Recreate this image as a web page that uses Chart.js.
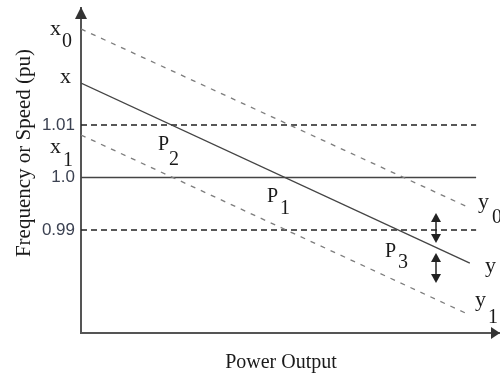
<!DOCTYPE html>
<html>
<head>
<meta charset="utf-8">
<script src="https://cdn.jsdelivr.net/npm/chart.js@4/dist/chart.umd.min.js"></script>
<style>
  html, body { margin: 0; padding: 0; background: #fff; }
  #wrap { width: 500px; height: 376px; position: relative; }
</style>
</head>
<body>
<div id="wrap"><canvas id="droop"></canvas></div>
<script>
// power output runs 0..100 (arbitrary), speed in pu
const droopX = [0, 92.8];          // start / end of the droop lines
const droopX0 = [1.0283, 0.9942];  // shifted up (x0 -> y0)
const droopMid = [1.0180, 0.9837]; // nominal (x -> y)
const droopX1 = [1.0081, 0.9738];  // shifted down (x1 -> y1)
const refX = [0, 94.3];            // horizontal reference lines
const refValues = [1.01, 1.0, 0.99];
const yTickLabels = ["1.01", "1.0", "0.99"];

function pts(xs, ys){ return xs.map((x, i) => ({x, y: ys[i]})); }

const serif = '"Liberation Serif", "Times New Roman", serif';

const extras = {
  id: 'extras',
  afterDraw(chart){
    const ctx = chart.ctx;
    const a = chart.chartArea;
    ctx.save();
    // axis arrow heads
    ctx.fillStyle = '#333';
    ctx.beginPath();
    ctx.moveTo(a.left, 7); ctx.lineTo(a.left - 6, 19); ctx.lineTo(a.left + 6, 19);
    ctx.closePath(); ctx.fill();
    ctx.beginPath();
    ctx.moveTo(500, a.bottom); ctx.lineTo(491, a.bottom - 6); ctx.lineTo(491, a.bottom + 6);
    ctx.closePath(); ctx.fill();

    // double headed arrows near P3
    ctx.strokeStyle = '#222'; ctx.fillStyle = '#222'; ctx.lineWidth = 1.5;
    function dbl(x, y1, y2){
      ctx.beginPath(); ctx.moveTo(x, y1 + 4); ctx.lineTo(x, y2 - 4); ctx.stroke();
      ctx.beginPath(); ctx.moveTo(x, y1); ctx.lineTo(x - 5, y1 + 9); ctx.lineTo(x + 5, y1 + 9); ctx.closePath(); ctx.fill();
      ctx.beginPath(); ctx.moveTo(x, y2); ctx.lineTo(x - 5, y2 - 9); ctx.lineTo(x + 5, y2 - 9); ctx.closePath(); ctx.fill();
    }
    dbl(436, 213, 243);
    dbl(436, 253, 283);

    // letter labels with subscripts
    ctx.fillStyle = '#1a1a1a';
    ctx.textAlign = 'left';
    ctx.textBaseline = 'alphabetic';
    function lab(t, x, y, sub, sx, sy, size){
      ctx.font = (size || 22) + 'px ' + serif;
      ctx.fillText(t, x, y);
      if (sub){ ctx.font = '20px ' + serif; ctx.fillText(sub, sx, sy); }
    }
    lab('x', 50, 35, '0', 62, 47);
    lab('x', 60, 83);
    lab('x', 50, 153, '1', 63, 166);
    lab('P', 158, 150, '2', 169, 165, 20);
    lab('P', 267, 202, '1', 280, 214, 20);
    lab('P', 385, 257, '3', 398, 268, 20);
    lab('y', 478, 208, '0', 492, 223);
    lab('y', 485, 272);
    lab('y', 475, 306, '1', 488, 323);

    // axis titles
    ctx.font = '20px ' + serif;
    ctx.textAlign = 'center';
    ctx.fillText('Power Output', 281, 368);
    ctx.font = '21px ' + serif;
    ctx.translate(30, 153);
    ctx.rotate(-Math.PI / 2);
    ctx.fillText('Frequency or Speed (pu)', 0, 0);
    ctx.restore();
  }
};

const ctx = document.getElementById('droop').getContext('2d');
new Chart(ctx, {
  type: 'scatter',
  data: {
    datasets: [
      { data: pts(droopX, droopX0), showLine: true, borderColor: '#7d7d7d', borderWidth: 1.3, borderDash: [5, 6] },
      { data: pts(droopX, droopMid), showLine: true, borderColor: '#444', borderWidth: 1.3 },
      { data: pts(droopX, droopX1), showLine: true, borderColor: '#7d7d7d', borderWidth: 1.3, borderDash: [5, 6] },
      { data: pts(refX, [refValues[0], refValues[0]]), showLine: true, borderColor: '#222', borderWidth: 1.3, borderDash: [6, 4] },
      { data: pts(refX, [refValues[1], refValues[1]]), showLine: true, borderColor: '#444', borderWidth: 1.5 },
      { data: pts(refX, [refValues[2], refValues[2]]), showLine: true, borderColor: '#222', borderWidth: 1.3, borderDash: [6, 4] }
    ]
  },
  options: {
    responsive: true,
    maintainAspectRatio: false,
    animation: false,
    layout: { padding: { top: 8, right: 0, left: 0, bottom: 0 } },
    elements: { point: { radius: 0, hoverRadius: 0 } },
    plugins: { legend: { display: false }, tooltip: { enabled: false } },
    scales: {
      x: {
        type: 'linear', min: 0, max: 100,
        grid: { display: false, drawTicks: false },
        border: { color: '#555', width: 2 },
        ticks: { display: false },
        afterFit(s){ s.height = 43; s.paddingLeft = 0; s.paddingRight = 0; }
      },
      y: {
        min: 0.97038, max: 1.03229,
        grid: { display: false, drawTicks: false },
        border: { color: '#555', width: 2 },
        afterBuildTicks(s){ s.ticks = refValues.map(v => ({ value: v })); },
        ticks: {
          padding: 6,
          color: '#3c4252',
          font: { family: '"Liberation Sans", Arial, sans-serif', size: 17 },
          callback: (v) => yTickLabels[refValues.indexOf(v)]
        },
        afterFit(s){ s.width = 81; s.paddingTop = 0; s.paddingBottom = 0; }
      }
    }
  },
  plugins: [extras]
});
</script>
</body>
</html>
